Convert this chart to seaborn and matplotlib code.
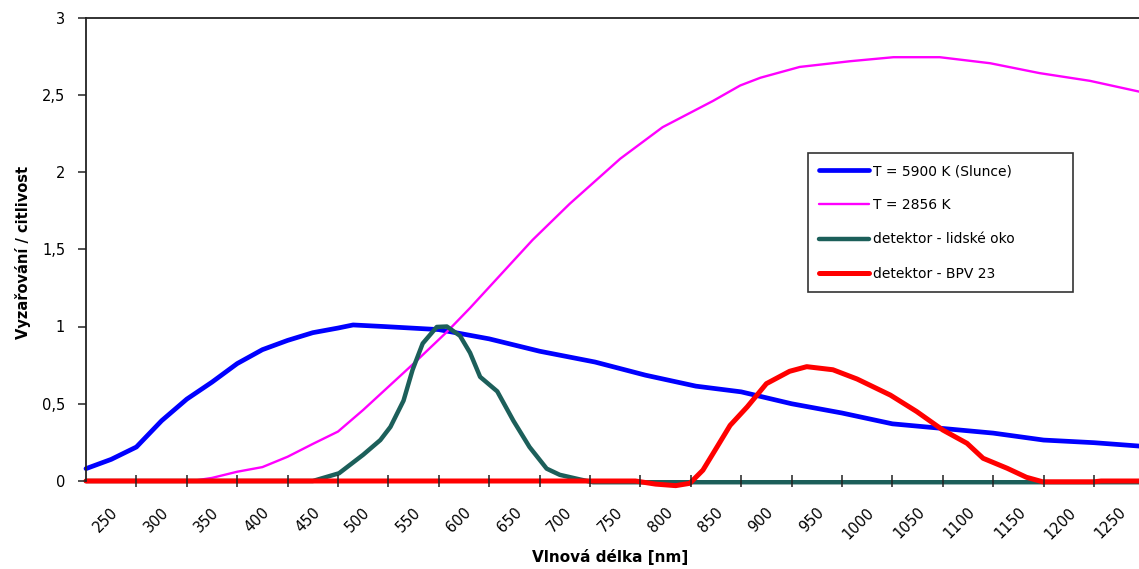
import numpy as np
import pandas as pd
import matplotlib
matplotlib.use("Agg")
import matplotlib.pyplot as plt
import matplotlib.transforms as mtransforms
import seaborn as sns

# ---- data ----
sun_nm = [225, 250, 275, 300, 325, 350, 375, 400, 425, 450, 475, 490, 520, 575,
          625, 675, 730, 780, 830, 875, 925, 975, 1025, 1075, 1125, 1175, 1225, 1270]
sun_val = [0.08, 0.14, 0.22, 0.39, 0.53, 0.64, 0.76, 0.85, 0.91, 0.96, 0.99, 1.01, 1.0, 0.98,
           0.92, 0.84, 0.77, 0.685, 0.614, 0.577, 0.50, 0.44, 0.37, 0.34, 0.31, 0.265, 0.248, 0.226]

lamp_nm = [225, 330, 350, 375, 400, 425, 450, 475, 500, 520, 550, 583, 606, 668, 705, 755,
           797, 847, 874, 894, 933, 983, 1026, 1072, 1122, 1171, 1221, 1270]
lamp_val = [0.0, 0.0, 0.02, 0.06, 0.09, 0.157, 0.24, 0.32, 0.46, 0.58, 0.76, 0.965, 1.12, 1.56, 1.795,
            2.086, 2.29, 2.46, 2.56, 2.61, 2.68, 2.717, 2.743, 2.743, 2.704, 2.64, 2.59, 2.52]

eye_nm = [225, 450, 476, 500, 517, 527, 540, 549, 559, 573, 583, 596, 606, 616, 633, 649,
          665, 682, 695, 715, 728, 1270]
eye_val = [0.0, 0.0, 0.05, 0.17, 0.265, 0.35, 0.52, 0.72, 0.89, 0.997, 1.0, 0.94, 0.83, 0.674, 0.58, 0.39,
           0.22, 0.08, 0.04, 0.01, -0.008, -0.008]

bpv_nm = [225, 770, 790, 810, 824, 837, 851, 864, 881, 900, 923, 940, 966, 990, 1023, 1049,
          1075, 1099, 1115, 1139, 1158, 1174, 1225, 1232, 1270]
bpv_val = [0.0, 0.0, -0.02, -0.03, -0.015, 0.07, 0.22, 0.36, 0.48, 0.63, 0.71, 0.74, 0.72, 0.66, 0.556, 0.45,
           0.33, 0.244, 0.147, 0.082, 0.024, -0.005, -0.005, 0.0, 0.0]

series_names = ["T = 5900 K (Slunce)", "T = 2856 K", "detektor - lidské oko", "detektor - BPV 23"]
series_colors = ["#0000FF", "#FF00FF", "#1C5F5A", "#FF0000"]
series_widths = [3.4, 1.7, 3.2, 3.6]

x_labels = list(range(250, 1251, 50))
y_ticks = [0, 0.5, 1, 1.5, 2, 2.5, 3]
y_labels = ["0", "0,5", "1", "1,5", "2", "2,5", "3"]

# ---- plot ----
sns.set_style("white")
plt.rcParams["font.family"] = ["DejaVu Sans"]
plt.rcParams["text.color"] = "black"

fig = plt.figure(figsize=(11.39, 5.69), dpi=100)
W, H = 1139, 569
ax = fig.add_axes([86 / W, 88 / H, 1058.4 / W, 463.5 / H])

data = [(sun_nm, sun_val), (lamp_nm, lamp_val), (eye_nm, eye_val), (bpv_nm, bpv_val)]
for (xs, ys), name, col, lw in zip(data, series_names, series_colors, series_widths):
    df = pd.DataFrame({"nm": xs, "val": ys})
    sns.lineplot(data=df, x="nm", y="val", ax=ax, color=col, linewidth=lw,
                 label=name, sort=False, estimator=None, zorder=2)
for ln in ax.get_lines():
    ln.set_clip_on(False)

ax.set_xlim(225, 1275)
ax.set_ylim(0, 3)

ax.set_axisbelow(False)
for s in ["left", "top", "bottom", "right"]:
    ax.spines[s].set_color("#222222")
    ax.spines[s].set_linewidth(1.3)
ax.spines["bottom"].set_zorder(1)

# y ticks
ax.set_yticks(y_ticks)
ax.set_yticklabels(y_labels, fontsize=10.5, color="black")
ax.tick_params(axis="y", left=True, direction="out", length=6, width=1.1, pad=9,
               color="#222222")

# x ticks: marks between labels, labels at group centers
ax.set_xticks([v + 25 for v in x_labels[:-1]])
ax.set_xticklabels([])
ax.tick_params(axis="x", which="major", bottom=True, direction="inout", length=9,
               width=1.1, color="#222222")
ax.set_xticks(x_labels, minor=True)
ax.set_xticklabels([str(v) for v in x_labels], minor=True, rotation=45,
                   ha="right", va="top", fontsize=10.5, color="black")
ax.tick_params(axis="x", which="minor", bottom=True, length=0, pad=17)
offset = mtransforms.ScaledTranslation(10 / 100, 0, fig.dpi_scale_trans)
for lab in ax.get_xticklabels(minor=True):
    lab.set_transform(lab.get_transform() + offset)

ax.set_xlabel("")
ax.set_ylabel("")
fig.text(610 / W, 1 - 557 / H, "Vlnová délka [nm]", ha="center", va="center",
         fontsize=11, fontweight="bold", color="black")
fig.text(23 / W, 1 - 252 / H, "Vyzařování / citlivost", ha="center", va="center",
         rotation=90, fontsize=10.5, fontweight="bold", color="black")

leg = ax.legend(loc="upper left",
                bbox_to_anchor=(808 / W, (H - 297) / H, 265 / W, 144 / H),
                bbox_transform=fig.transFigure, mode="expand", borderaxespad=0,
                fontsize=10, handlelength=3.6, handletextpad=0.3,
                labelspacing=1.45, borderpad=0.8, fancybox=False,
                framealpha=1, edgecolor="#333333")
leg.get_frame().set_linewidth(1.2)
for t in leg.get_texts():
    t.set_color("black")

fig.savefig("out.png", dpi=100, facecolor="white")
